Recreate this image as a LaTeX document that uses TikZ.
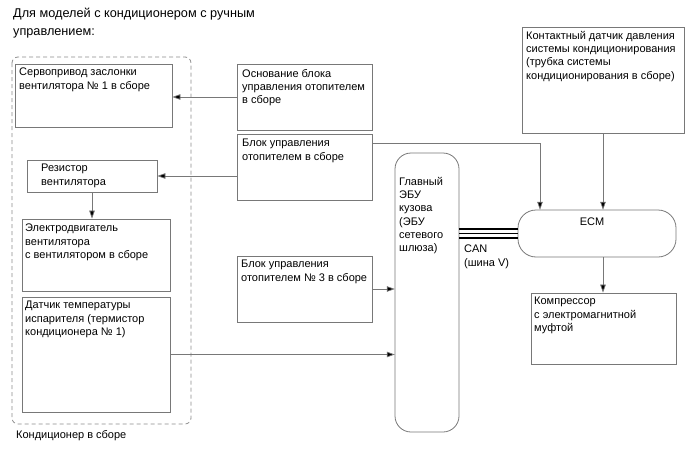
\documentclass[tikz,border=0pt]{standalone}
\usepackage{fontspec}
\setmainfont{Liberation Sans}
\usetikzlibrary{arrows.meta,calc}
\begin{document}
\begin{tikzpicture}[x=1pt,y=-1pt,
  font=\fontsize{11}{13.3}\selectfont,
  linecol/.style={draw={rgb,255:red,120;green,120;blue,120}},
  boxr/.style={linecol, line width=0.8pt, rectangle, inner sep=0pt},
  txt/.style={anchor=north west, inner sep=0pt, align=left, text=black},
  arr/.style={linecol, line width=0.7pt, -{Triangle[length=8pt,width=5.5pt,fill=black]}},
  can/.style={draw=black, line width=1.6pt},
  grp/.style={draw={rgb,255:red,140;green,140;blue,140}, line width=0.8pt, dash pattern=on 4pt off 3pt, rounded corners=6pt}
]
\useasboundingbox (0,0) rectangle (688,463);

% group
\draw[grp] (12,57) rectangle (191,424);
\node[txt] (grplbl) at (16,430) {Кондиционер в сборе};

% title
\node[txt, font=\fontsize{12.7}{17.5}\selectfont] (title) at (13,8) {Для моделей с кондиционером с ручным\\управлением:};

% boxes
\node[boxr, minimum width=157pt, minimum height=63pt] (servo) at (93.5,95.5) {};
\node[txt] (servot) at (19,68) {Сервопривод заслонки\\вентилятора № 1 в сборе};

\node[boxr, minimum width=135pt, minimum height=66pt] (osn) at (304.5,97) {};
\node[txt] (osnt) at (242,69) {Основание блока\\управления отопителем\\в сборе};

\node[boxr, minimum width=135pt, minimum height=66pt] (blok) at (304.5,167) {};
\node[txt] (blokt) at (242,139) {Блок управления\\отопителем в сборе};

\node[boxr, minimum width=130pt, minimum height=32pt] (rez) at (92,176) {};
\node[txt] (rezt) at (41,164) {Резистор\\вентилятора};

\node[boxr, minimum width=148pt, minimum height=72pt] (motor) at (96,255) {};
\node[txt] (motort) at (25,224) {Электродвигатель\\вентилятора\\с вентилятором в сборе};

\node[boxr, minimum width=148pt, minimum height=115pt] (sensor) at (96,354.5) {};
\node[txt] (sensort) at (25,301) {Датчик температуры\\испарителя (термистор\\кондиционера № 1)};

\node[boxr, minimum width=135pt, minimum height=66pt] (blok3) at (304.5,289) {};
\node[txt] (blok3t) at (241,260) {Блок управления\\отопителем № 3 в сборе};

\draw[boxr, rounded corners=16pt] (395,153) rectangle (459,432);
\node[inner sep=0pt, minimum width=64pt, minimum height=279pt] (gw) at (427,292.5) {};
\node[txt] (gwt) at (399,177) {Главный\\ЭБУ\\кузова\\(ЭБУ\\сетевого\\шлюза)};

\draw[boxr, rounded corners=18pt] (518,210) rectangle (676,257);
\node[inner sep=0pt, minimum width=158pt, minimum height=47pt] (ecm) at (597,233.5) {};
\node[inner sep=0pt, anchor=center] (ecmt) at (592,222) {ECM};

\node[boxr, minimum width=162pt, minimum height=106pt] (press) at (603,80) {};
\node[txt] (presst) at (526,31) {Контактный датчик давления\\системы кондиционирования\\(трубка системы\\кондиционирования в сборе)};

\node[boxr, minimum width=145pt, minimum height=71pt] (comp) at (603.5,328.5) {};
\node[txt] (compt) at (534,297) {Компрессор\\с электромагнитной\\муфтой};

\node[txt] (cant) at (464,245) {CAN\\(шина V)};

% connectors
\draw[arr] (osn.west) -- (osn.west -| servo.east);
\draw[arr] (rez.east -| blok.west) -- (rez.east);
\draw[arr] (rez.south) -- (rez.south |- motor.north);
\draw[arr] ([yshift=-10pt]blok.north east) -| ([xshift=-57pt]ecm.north);
\draw[arr] (press.south) -- (press.south |- ecm.north);
\draw[arr] (press.south |- ecm.south) -- (press.south |- comp.north);
\draw[arr] (blok3.east) -- (blok3.east -| gw.west);
\draw[arr] (sensor.east) -- (sensor.east -| gw.west);
\foreach \d in {-4.5,0,4.5}
  \draw[can] ([yshift=\d pt]ecm.west -| gw.east) -- ([yshift=\d pt]ecm.west);
\end{tikzpicture}
\end{document}
